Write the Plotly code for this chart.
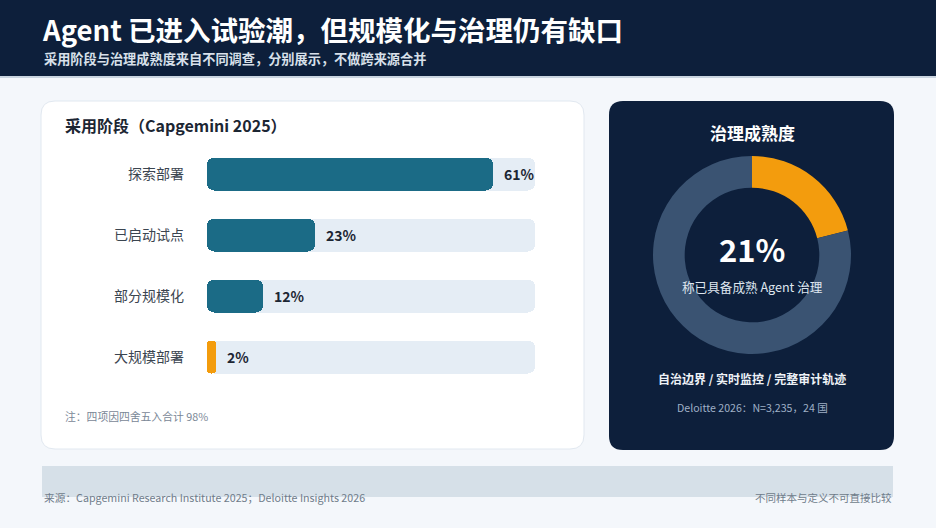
import plotly.graph_objects as go

W, H = 936, 528

# ---- data ----
stages = ["探索部署", "已启动试点", "部分规模化", "大规模部署"]
stage_values = [61, 23, 12, 2]
stage_colors = ["#1b6b86", "#1b6b86", "#1b6b86", "#f39c0d"]
axis_max = 70

gov_labels = ["具备成熟治理", "其他"]
gov_values = [21, 79]
gov_colors = ["#f39c0d", "#3a5372"]

CJK = "Noto Sans CJK SC"


def px(x):
    return x / W


def py(y):
    return 1 - y / H


def rrect(x0, y0, x1, y1, r):
    pts = [
        f"M {px(x0 + r)},{py(y0)}",
        f"L {px(x1 - r)},{py(y0)}",
        f"Q {px(x1)},{py(y0)} {px(x1)},{py(y0 + r)}",
        f"L {px(x1)},{py(y1 - r)}",
        f"Q {px(x1)},{py(y1)} {px(x1 - r)},{py(y1)}",
        f"L {px(x0 + r)},{py(y1)}",
        f"Q {px(x0)},{py(y1)} {px(x0)},{py(y1 - r)}",
        f"L {px(x0)},{py(y0 + r)}",
        f"Q {px(x0)},{py(y0)} {px(x0 + r)},{py(y0)}",
        "Z",
    ]
    return " ".join(pts)


fig = go.Figure()

# track bars (explicit base -> both ends rounded)
fig.add_trace(go.Bar(
    y=stages, x=[axis_max] * len(stages), base=[0] * len(stages), orientation="h",
    marker=dict(color="#e5edf5", line=dict(width=0), cornerradius=7),
    width=0.53, hoverinfo="skip", showlegend=False,
))
# value bars
fig.add_trace(go.Bar(
    y=stages, x=stage_values, base=[0] * len(stages), orientation="h",
    marker=dict(color=stage_colors, line=dict(width=0), cornerradius=7),
    width=0.53, showlegend=False,
))

# donut
fig.add_trace(go.Pie(
    labels=gov_labels, values=gov_values, hole=0.68, sort=False,
    direction="clockwise", rotation=0,
    marker=dict(colors=gov_colors, line=dict(width=0)),
    textinfo="none", hoverinfo="label+percent", showlegend=False,
    domain=dict(x=[px(653), px(851)], y=[py(354.5), py(155.5)]),
))

shapes = [
    dict(type="rect", xref="paper", yref="paper", x0=0, x1=1, y0=py(76), y1=1,
         fillcolor="#0d1f3b", line=dict(width=0), layer="below"),
    dict(type="rect", xref="paper", yref="paper", x0=0, x1=1, y0=py(78), y1=py(76),
         fillcolor="#c9d4e0", line=dict(width=0), layer="below"),
    dict(type="path", xref="paper", yref="paper", path=rrect(41, 101, 584, 449, 14),
         fillcolor="#ffffff", line=dict(color="#e1e8f0", width=1), layer="below"),
    dict(type="path", xref="paper", yref="paper", path=rrect(609, 101, 894, 450, 14),
         fillcolor="#0d1f3b", line=dict(width=0), layer="below"),
    dict(type="rect", xref="paper", yref="paper", x0=px(42), x1=px(893), y0=py(497), y1=py(466),
         fillcolor="#d6e0e8", line=dict(width=0), layer="below"),
]

ann = []


def text(x, y, s, size, color, bold=False, xanchor="left", family=CJK):
    ann.append(dict(
        xref="paper", yref="paper", x=px(x), y=py(y), text=(f"<b>{s}</b>" if bold else s),
        showarrow=False, xanchor=xanchor, yanchor="middle",
        font=dict(size=size, color=color, family=family),
    ))


text(40, 29, "Agent 已进入试验潮，但规模化与治理仍有缺口", 27.5, "#ffffff", bold=True)
text(42, 59, "采用阶段与治理成熟度来自不同调查，分别展示，不做跨来源合并", 13.2, "#d8e0ea", bold=True)
text(63, 125, "采用阶段（Capgemini 2025）", 16, "#1c2633", bold=True)
text(63, 416, "注：四项因四舍五入合计 98%", 10.8, "#7a8796")
text(752, 132, "治理成熟度", 17, "#ffffff", bold=True, xanchor="center")
text(752, 248, "21%", 31, "#ffffff", bold=True, xanchor="center")
text(752, 286, "称已具备成熟 Agent 治理", 12.6, "#dfe6ef", xanchor="center")
text(752, 378, "自治边界 / 实时监控 / 完整审计轨迹", 12, "#eef2f7", bold=True, xanchor="center")
text(752, 407, "Deloitte 2026：N=3,235，24 国", 10.6, "#9fb0c6", xanchor="center")
text(42, 497, "来源：Capgemini Research Institute 2025；Deloitte Insights 2026", 10.7, "#6f7c8a")
text(894, 497, "不同样本与定义不可直接比较", 10.5, "#6f7c8a", xanchor="right")

for s, v in zip(stages, stage_values):
    ann.append(dict(
        xref="x", yref="y", x=v, y=s, text=f"<b>{v}%</b>", showarrow=False,
        xanchor="left", yanchor="middle", xshift=9,
        font=dict(size=14, color="#1c2633", family=CJK),
    ))

fig.update_layout(
    width=W, height=H, margin=dict(l=0, r=0, t=0, b=0),
    paper_bgcolor="#f4f7fb", plot_bgcolor="rgba(0,0,0,0)",
    barmode="overlay", bargap=0,
    shapes=shapes, annotations=ann,
    xaxis=dict(domain=[px(207), px(535)], range=[0, axis_max], visible=False, fixedrange=True),
    yaxis=dict(domain=[py(387.5), py(143.5)], type="category", range=[3.5, -0.5],
               showgrid=False, zeroline=False, showline=False, ticks="",
               ticklabelstandoff=22, fixedrange=True,
               tickfont=dict(size=14, color="#3b4550", family=CJK)),
    font=dict(family=CJK),
)

fig.write_html(
    "out.html",
    config={"displayModeBar": False},
    post_script="document.body.style.margin='0';document.body.style.background='#f4f7fb';",
)
